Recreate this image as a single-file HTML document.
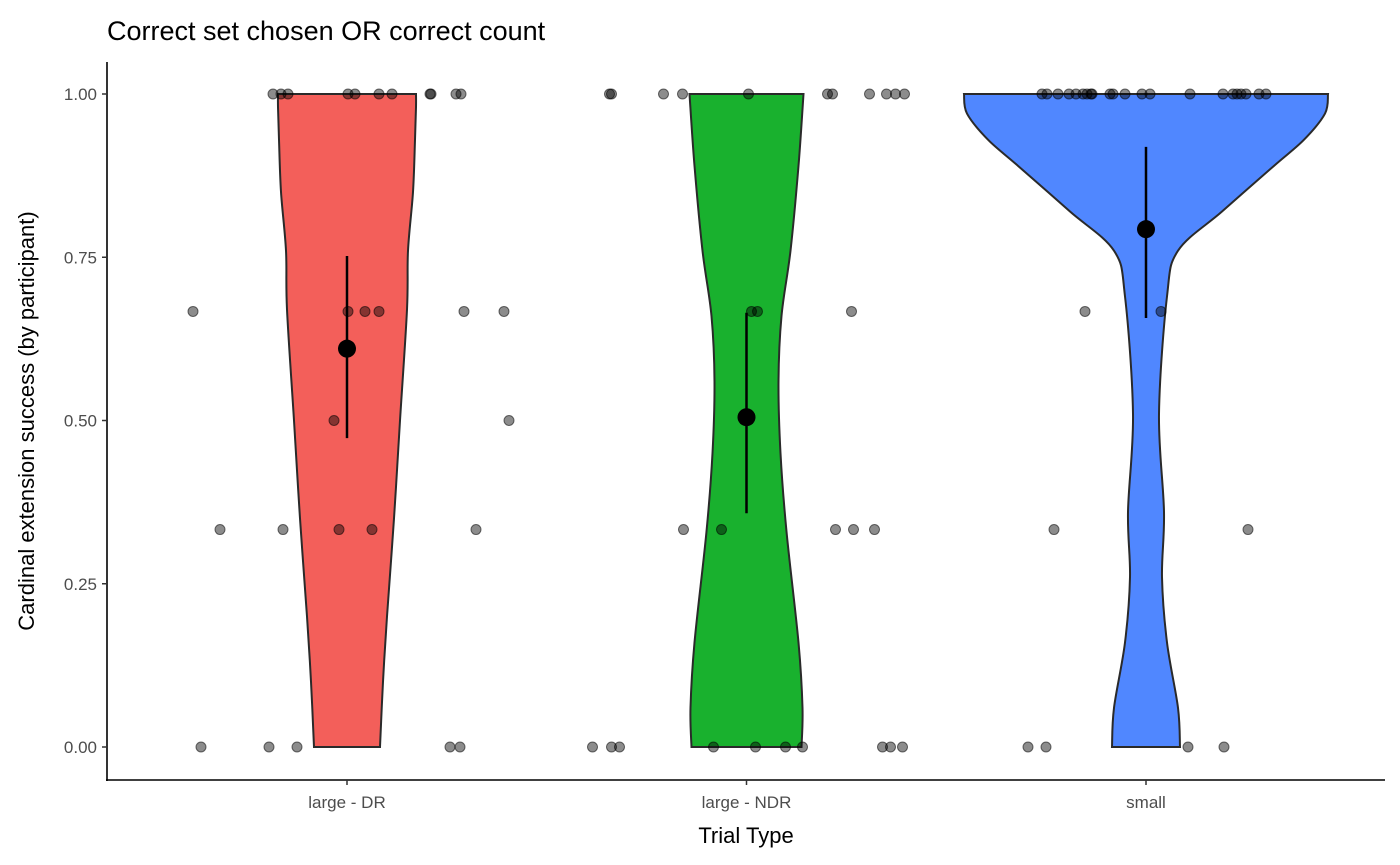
<!DOCTYPE html>
<html><head><meta charset="utf-8"><style>
body{margin:0;background:#fff;}
svg{display:block;font-family:"Liberation Sans",Arial,sans-serif;}
</style></head><body>
<svg id="chart" width="1400" height="865">
<text x="107" y="40" font-size="27" fill="#000">Correct set chosen OR correct count</text>
<g id="plot"></g>
<line x1="107" y1="62" x2="107" y2="781" stroke="#000" stroke-width="1.6"/>
<line x1="106" y1="780" x2="1385" y2="780" stroke="#000" stroke-width="1.6"/>
<text x="746" y="843" font-size="22" text-anchor="middle">Trial Type</text>
<text transform="translate(34,421) rotate(-90)" font-size="22" text-anchor="middle">Cardinal extension success (by participant)</text>
</svg>
<script>
const categories = ["large - DR","large - NDR","small"];
const fills = ["#F35F5A","#19B12E","#5087FF"];
const yTicks = [0,0.25,0.5,0.75,1];
const yTickLabels = ["0.00","0.25","0.50","0.75","1.00"];
// violin density profiles
const densLevels = [
  [0,0.1,0.2,0.35,0.5,0.67,0.76,0.85,0.93,0.98,1],
  [0,0.06,0.16,0.33,0.45,0.56,0.66,0.76,0.89,1],
  [0,0.06,0.16,0.26,0.36,0.51,0.69,0.76,0.82,0.89,0.93,0.97,1]
];
const densValues = [
  [0.33,0.36,0.40,0.47,0.53,0.60,0.61,0.66,0.68,0.69,0.69],
  [0.55,0.56,0.52,0.40,0.34,0.32,0.35,0.44,0.52,0.57],
  [0.34,0.32,0.21,0.16,0.18,0.13,0.21,0.32,0.76,1.28,1.58,1.79,1.82]
];
const means = [0.61,0.505,0.793];
const ciLow = [0.473,0.358,0.657];
const ciHigh = [0.752,0.665,0.919];
// jittered participant points: value and jitter offset
const ptsValue = [
  [1,1,1,1,1,1,1,1,1,1,1,0.667,0.667,0.667,0.667,0.667,0.667,0.5,0.5,0.333,0.333,0.333,0.333,0.333,0,0,0,0,0],
  [1,1,1,1,1,1,1,1,1,1,1,0.667,0.667,0.667,0.333,0.333,0.333,0.333,0.333,0,0,0,0,0,0,0,0,0,0],
  [1,1,1,1,1,1,1,1,1,1,1,1,1,1,1,1,1,1,1,1,1,1,0.667,0.667,0.333,0.333,0,0,0,0]
];
const ptsJitter = [
  [-0.74,-0.66,-0.59,0.01,0.08,0.32,0.45,0.83,0.84,1.09,1.14,-1.54,0.01,0.18,0.32,1.17,1.57,-0.13,1.62,-1.27,-0.64,-0.08,0.25,1.29,-1.46,-0.78,-0.50,1.03,1.13],
  [-1.37,-1.35,-0.83,-0.64,0.02,0.81,0.86,1.23,1.40,1.49,1.58,0.05,0.11,1.05,-0.63,-0.25,0.89,1.07,1.28,-1.54,-1.35,-1.27,-0.33,0.09,0.39,0.56,1.36,1.44,1.56],
  [-1.04,-0.99,-0.88,-0.77,-0.70,-0.63,-0.59,-0.55,-0.54,-0.36,-0.33,-0.21,-0.04,0.04,0.44,0.77,0.87,0.91,0.95,1.00,1.13,1.20,-0.61,0.15,-0.92,1.02,-1.18,-1.00,0.42,0.78]
];
const NS="http://www.w3.org/2000/svg";
const svg=document.getElementById('chart'), plot=document.getElementById('plot');
const yS=v=>747-653*v;
const xS=i=>347+399.5*i;
const wS=d=>d*100;
const jS=j=>j*100;
function mk(t,a){const e=document.createElementNS(NS,t);for(const k in a)e.setAttribute(k,a[k]);return e;}
function smooth(pts){let d="M"+pts[0][0]+","+pts[0][1];
 for(let i=0;i<pts.length-1;i++){const p0=pts[Math.max(0,i-1)],p1=pts[i],p2=pts[i+1],p3=pts[Math.min(pts.length-1,i+2)];
  const c1=[p1[0]+(p2[0]-p0[0])/6,p1[1]+(p2[1]-p0[1])/6],c2=[p2[0]-(p3[0]-p1[0])/6,p2[1]-(p3[1]-p1[1])/6];
  d+=" C"+c1[0]+","+c1[1]+" "+c2[0]+","+c2[1]+" "+p2[0]+","+p2[1];}
 return d;}
yTicks.forEach((t,i)=>{
 const l=mk('line',{x1:102,x2:107,y1:yS(t),y2:yS(t),stroke:'#333','stroke-width':1.5});
 
 
 svg.appendChild(l);
 const tx=mk('text',{x:97,y:yS(t)+6,'font-size':17,'text-anchor':'end',fill:'#4d4d4d'});
 tx.textContent=yTickLabels[i];
 
 
 svg.appendChild(tx);
});
categories.forEach((c,i)=>{
 const cx=xS(i);
 const l=mk('line',{x1:cx,x2:cx,y1:780,y2:785,stroke:'#333','stroke-width':1.5});
 
 
 svg.appendChild(l);
 const tx=mk('text',{x:cx,y:808,'font-size':17,'text-anchor':'middle',fill:'#4d4d4d'});
 tx.textContent=c;
 
 
 svg.appendChild(tx);
 const lv=densLevels[i],dv=densValues[i];
 const right=lv.map((v,k)=>[cx+wS(dv[k]),yS(v)]);
 const left=lv.map((v,k)=>[cx-wS(dv[k]),yS(v)]).reverse();
 let d=smooth(right)+" L"+left[0][0]+","+left[0][1]+smooth(left).replace(/^M[^ ]+/,"")+" Z";
 const p=mk('path',{d:d,fill:fills[i],stroke:'#2a2a2a','stroke-width':2});
 
 
 plot.appendChild(p);
});
categories.forEach((c,i)=>{
 ptsValue[i].forEach((v,k)=>{
  const e=mk('circle',{cx:xS(i)+jS(ptsJitter[i][k]),cy:yS(v),r:5,fill:'rgba(0,0,0,0.45)',stroke:'rgba(0,0,0,0.55)','stroke-width':1});
  
  
  plot.appendChild(e);
 });
 const el=mk('line',{x1:xS(i),x2:xS(i),y1:yS(ciLow[i]),y2:yS(ciHigh[i]),stroke:'#000','stroke-width':2.5});
 
 
 plot.appendChild(el);
 const m=mk('circle',{cx:xS(i),cy:yS(means[i]),r:9,fill:'#000'});
 
 
 plot.appendChild(m);
});
</script>
</body></html>
